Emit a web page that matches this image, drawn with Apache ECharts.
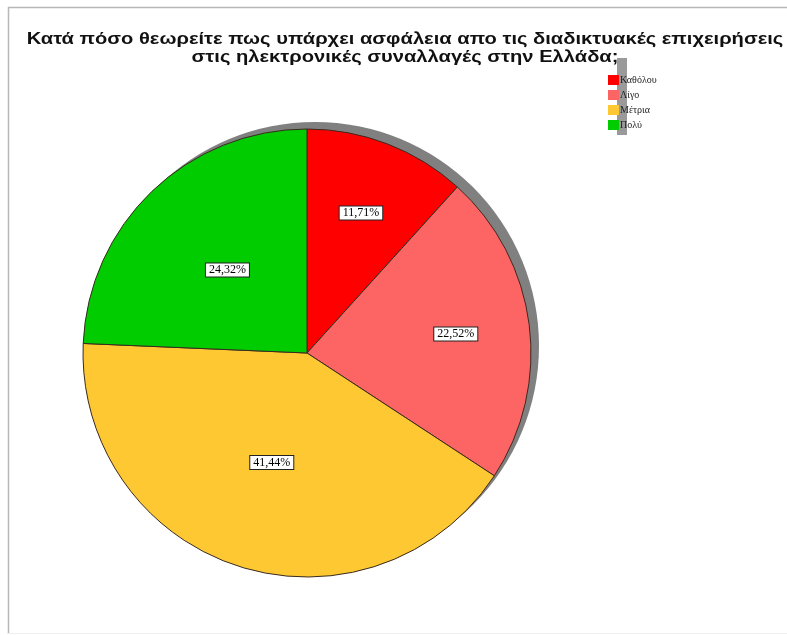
<!DOCTYPE html>
<html>
<head>
<meta charset="utf-8">
<script src="https://cdn.jsdelivr.net/npm/echarts@6/dist/echarts.min.js"></script>
<style>
  html, body { margin: 0; padding: 0; background: #fff; }
  #chart { width: 787px; height: 635px; }
</style>
</head>
<body>
<div id="chart"></div>
<script>
// Answer categories and their shares (percent)
const categories = ['Καθόλου', 'Λίγο', 'Μέτρια', 'Πολύ'];
const shares = [11.71, 22.52, 41.44, 24.32];
const colors = ['#ff0000', '#fd6464', '#fdc832', '#00cc00'];
const titleText = 'Κατά πόσο θεωρείτε πως υπάρχει ασφάλεια απο τις διαδικτυακές επιχειρήσεις\nστις ηλεκτρονικές συναλλαγές στην Ελλάδα;';

// Slices whose labels sit further out toward the rim
const outerLabelSet = new Set(['Καθόλου', 'Λίγο']);

const fmt = v => v.toFixed(2).replace('.', ',') + '%';

const labelBox = {
  show: true,
  position: 'inside',
  formatter: p => fmt(p.value),
  fontFamily: 'Liberation Serif',
  fontSize: 12,
  color: '#000',
  backgroundColor: '#fff',
  borderColor: '#222',
  borderWidth: 1,
  padding: [1, 3, 0, 3]
};

const data = categories.map((c, i) => ({
  name: c,
  value: shares[i],
  itemStyle: { color: colors[i] },
  label: { show: !outerLabelSet.has(c) }
}));

const outerLabelData = categories.map((c, i) => ({
  name: c,
  value: shares[i],
  label: { show: outerLabelSet.has(c) }
}));

const chart = echarts.init(document.getElementById('chart'), null, { renderer: 'canvas' });
chart.setOption({
  backgroundColor: '#fff',
  animation: false,
  legend: {
    orient: 'vertical',
    left: 603,
    top: 70,
    icon: 'rect',
    itemWidth: 11,
    itemHeight: 10,
    itemGap: 5,
    selectedMode: false,
    data: categories,
    itemStyle: { borderWidth: 0 },
    textStyle: { fontFamily: 'Liberation Serif', fontSize: 10, color: '#222', padding: [0, 0, 0, -4] }
  },
  graphic: [
    // page frame
    { type: 'polyline', z: -10, shape: { points: [[8.5, 634], [8.5, 7.5], [787, 7.5]] }, style: { stroke: '#b8b8b8', fill: null, lineWidth: 1.5 } },
    { type: 'line', z: -10, shape: { x1: 8, y1: 633.5, x2: 787, y2: 633.5 }, style: { stroke: '#eeeeee', lineWidth: 1 } },
    // legend box shadow strip
    { type: 'rect', z: -5, shape: { x: 617, y: 58, width: 10, height: 77 }, style: { fill: '#9a9a9a' } },
    // chart title, stretched wide across the page
    {
      type: 'text',
      x: 405,
      y: 30,
      scaleX: 1.185,
      z: 10,
      style: {
        text: titleText,
        align: 'center',
        verticalAlign: 'top',
        font: 'bold 17px "Liberation Sans"',
        lineHeight: 18,
        fill: '#111'
      }
    }
  ],
  series: [
    {
      // drop shadow disc behind the pie
      type: 'pie',
      silent: true,
      z: 1,
      center: [315, 346],
      radius: 224,
      label: { show: false },
      labelLine: { show: false },
      itemStyle: { color: '#808080', borderWidth: 0 },
      data: [{ name: 'shadow', value: 1 }]
    },
    {
      type: 'pie',
      z: 2,
      center: [307, 353],
      radius: 224,
      startAngle: 90,
      clockwise: true,
      label: labelBox,
      labelLine: { show: false },
      itemStyle: { borderColor: '#3a2a20', borderWidth: 1 },
      emphasis: { disabled: true },
      data: data
    },
    {
      // label-only ring for the slices labelled closer to the rim
      type: 'pie',
      z: 3,
      silent: true,
      center: [307, 353],
      radius: [70, 224],
      startAngle: 90,
      clockwise: true,
      label: labelBox,
      labelLine: { show: false },
      itemStyle: { color: 'rgba(0,0,0,0)', borderWidth: 0 },
      emphasis: { disabled: true },
      data: outerLabelData
    }
  ]
});
</script>
</body>
</html>
